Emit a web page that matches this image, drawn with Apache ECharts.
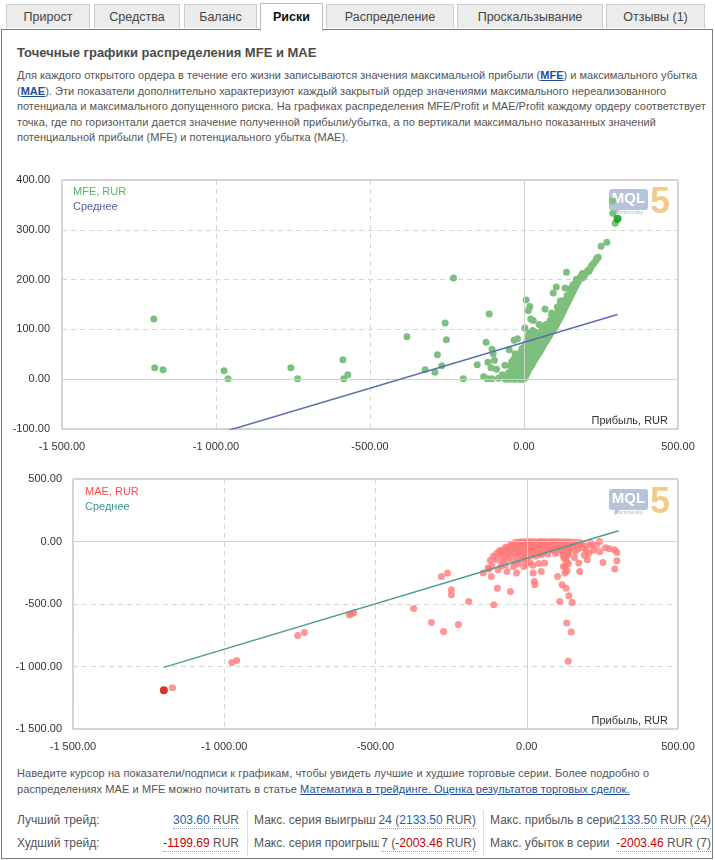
<!DOCTYPE html>
<html>
<head>
<meta charset="utf-8">
<script src="https://cdn.jsdelivr.net/npm/echarts@6/dist/echarts.min.js"></script>
<style>
  html, body { margin:0; padding:0; background:#fff; }
  body { width:715px; height:860px; position:relative; overflow:hidden; font-family:"Liberation Sans", Arial, sans-serif; color:#555; }
  .frame { position:absolute; left:1px; top:29px; width:710px; height:828px; border:1px solid #7a7a7a; }
  .tab { position:absolute; top:4px; height:24px; line-height:24px; background:#ececec; border:1px solid #cdcdcd; border-bottom:none; text-align:center; font-size:12.5px; color:#444; box-sizing:border-box; }
  .tab.active { background:#fff; top:3px; height:28px; line-height:27px; font-weight:bold; color:#111; border-color:#bdbdbd; z-index:2; }
  .h { position:absolute; left:17px; top:45px; font-size:13px; font-weight:bold; color:#4b4b4b; white-space:nowrap; }
  .p { position:absolute; left:17px; font-size:11px; letter-spacing:0.02px; line-height:15.5px; white-space:nowrap; color:#555; }
  .p2 { letter-spacing:0.08px; }
  .p a { color:#1f4f9a; text-decoration:underline; }
  #chart { position:absolute; left:0; top:160px; width:715px; height:600px; }
  .cell { position:absolute; font-size:12px; white-space:nowrap; overflow:hidden; color:#555; }
  .val { position:absolute; font-size:12px; white-space:nowrap; text-align:right; color:#555; border-bottom:1px dotted #8a9ab8; line-height:15px; background:#fff; }
  .b { color:#1f5fae; } .r { color:#c40000; }
  .sep { position:absolute; top:810px; width:1px; height:46px; background:#dcdcdc; }
</style>
</head>
<body>
<div class="frame"></div>
<div class="tab" style="left:6px;width:84px;">Прирост</div>
<div class="tab" style="left:94px;width:86px;">Средства</div>
<div class="tab" style="left:184px;width:73px;">Баланс</div>
<div class="tab active" style="left:260px;width:63px;">Риски</div>
<div class="tab" style="left:326px;width:128px;">Распределение</div>
<div class="tab" style="left:457px;width:146px;">Проскальзывание</div>
<div class="tab" style="left:606px;width:99px;">Отзывы (1)</div>

<div class="h">Точечные графики распределения MFE и MAE</div>
<div class="p" style="top:68px;">Для каждого открытого ордера в течение его жизни записываются значения максимальной прибыли (<b><a>MFE</a></b>) и максимального убытка<br>(<b><a>MAE</a></b>). Эти показатели дополнительно характеризуют каждый закрытый ордер значениями максимального нереализованного<br>потенциала и максимального допущенного риска. На графиках распределения MFE/Profit и MAE/Profit каждому ордеру соответствует<br>точка, где по горизонтали дается значение полученной прибыли/убытка, а по вертикали максимально показанных значений<br>потенциальной прибыли (MFE) и потенциального убытка (MAE).</div>

<div id="chart"></div>

<div class="p p2" style="top:766px;">Наведите курсор на показатели/подписи к графикам, чтобы увидеть лучшие и худшие торговые серии. Более подробно о<br>распределениях MAE и MFE можно почитать в статье <a>Математика в трейдинге. Оценка результатов торговых сделок.</a></div>

<div class="cell" style="left:17px;top:813px;width:120px;">Лучший трейд:</div>
<div class="cell" style="left:17px;top:836px;width:120px;">Худший трейд:</div>
<div class="val" style="right:476px;top:813px;"><span class="b">303.60</span> RUR</div>
<div class="val" style="right:476px;top:836px;"><span class="r">-1199.69</span> RUR</div>
<div class="sep" style="left:247px;"></div>
<div class="cell" style="left:254px;top:813px;width:125px;">Макс. серия выигрыш</div>
<div class="cell" style="left:254px;top:836px;width:125px;">Макс. серия проигрыш</div>
<div class="val" style="right:239px;top:813px;">24 (<span class="b">2133.50</span> RUR)</div>
<div class="val" style="right:239px;top:836px;">7 (<span class="r">-2003.46</span> RUR)</div>
<div class="sep" style="left:483px;"></div>
<div class="cell" style="left:490px;top:813px;width:125px;">Макс. прибыль в серии</div>
<div class="cell" style="left:490px;top:836px;width:125px;">Макс. убыток в серии</div>
<div class="val" style="right:4px;top:813px;"><span class="b">2133.50</span> RUR (24)</div>
<div class="val" style="right:4px;top:836px;"><span class="r">-2003.46</span> RUR (7)</div>

<script>
// ---- data ----
const xTicks = { min: -1500, max: 500, interval: 500 };
const mfeYTicks = { min: -100, max: 400, interval: 100 };
const maeYTicks = { min: -1500, max: 500, interval: 500 };

// [profit, MFE]
const mfePoints = [
  [-1202,121],[-1199,23],[-1172,19],[-974,17],[-961,1],[-757,23],[-735,1],[-588,39],[-585,1],[-572,9],
  [-380,85],[-321,19],[-289,14],[-267,27],[-281,49],[-256,113],[-252,79],[-229,203],[-197,1],[-152,29],
  [-131,5],[-123,74],[-113,131],[-119,1],[-117,34],[-107,23],[-105,1],[-104,60],[-100,51],[-96,38],
  [-89,20],[-83,2],[-70,9],[-62,28],[-56,1],[-48,59],[-42,8],[-40,35],[-32,78],[-29,51],[-21,81],
  [7,159],[19,146],[14,138],[22,121],[30,118],[3,103],[16,93],[28,98],[49,110],[57,107],[68,141],[77,111],
  [90,133],[95,173],[105,185],[118,157],[120,150],[133,183],[138,215],[153,183],[189,203],[211,217],
  [228,234],[236,243],[241,245],[250,267],[269,275],[288,333],[287,358],[296,313],
  [-60,0],[-52,2],[-46,0],[-40,3],[-36,1],[-31,0],[-27,4],[-23,1],[-19,2],[-14,0],[-10,3],[-6,1],[-2,0],
  [2,2],[5,6],[-44,6],[-37,8],[-30,11],[-24,7],[-17,9],[-12,13],[-7,7],[-3,12],[0,9],[4,11],[8,10],
  [-50,13],[-42,16],[-34,19],[-26,15],[-20,21],[-15,17],[-9,19],[-4,23],[1,17],[6,15],[10,13],[12,16],
  [-45,27],[-38,24],[-28,30],[-22,26],[-16,33],[-11,28],[-5,31],[0,26],[4,21],[9,20],[14,19],[17,22],
  [20,24],[-33,40],[-24,44],[-18,38],[-13,46],[-8,41],[-2,36],[3,33],[8,29],[12,27],[16,31],[22,28],
  [25,29],[28,32],
  [-10,55],[-4,50],[0,45],[5,42],[10,38],[15,36],[20,34],[26,37],[31,36],[34,39],[38,42],[-6,62],[2,58],
  [7,52],[12,48],[18,46],[24,43],[29,45],[36,47],[40,45],[43,48],[46,50],[4,68],[10,64],[15,58],[20,55],
  [26,53],[32,56],[38,54],[44,57],[49,53],[52,56],[55,59],[8,75],[14,72],[19,67],[25,63],[30,66],[36,63],
  [42,65],[48,63],[54,65],[58,63],[61,66],[12,84],[18,80],[24,77],[29,74],[35,72],[41,74],[47,72],[53,75],
  [60,73],[64,70],[67,72],[70,75],[20,88],[27,86],[33,83],[40,82],[46,85],[52,82],[58,84],[65,82],[72,78],
  [75,80],[78,83],[35,95],[42,92],[50,94],[56,91],[63,93],[70,88],[76,88],[81,86],[84,90],
  [87,93],[90,96],[94,99],[60,103],[68,100],[75,98],[82,97],[97,102],[100,105],[103,108],[72,110],[80,107],
  [88,104],[106,111],[109,115],[112,118],[85,118],[95,115],[101,120],[115,121],[118,125],[90,128],[100,130],
  [108,127],[121,128],[124,132],[112,137],[119,140],[127,136],[130,140],[108,145],[125,148],[133,144],
  [136,148],[139,152],[142,155],[130,158],[145,159],[148,162],[151,166],[154,170],[140,168],[157,174],
  [160,177],[150,178],[163,181],[166,185],[169,188],[172,192],[160,190],[175,195],[178,198],[170,200],
  [181,202],[184,205],[187,208],[190,212],[195,207],[198,211],[202,214],[206,217],[209,219],[214,222],
  [218,226],[222,230],[234,239]
];
const mfeBest = [[303.6, 322]];
const mfeMean = [[-1199.69, -147], [303.6, 130]];

// [profit, MAE]
const maePoints = [
  [-1171,-1170],[-975,-967],[-959,-951],[-757,-751],[-735,-727],[-587,-586],[-580,-580],[-572,-570],
  [-374,-535],[-315,-647],[-275,-719],[-226,-663],[-282,-279],[-262,-252],[-249,-386],[-249,-426],
  [-192,-479],[-144,-252],[-117,-279],[-109,-506],[-97,-373],[-54,-399],[-125,-220],[-128,-212],
  [-115,-194],[-95,-226],[-65,-239],[-34,-252],[-44,-199],[21,-252],[25,-319],[27,-346],[48,-239],
  [59,-172],[102,-279],[109,-479],[117,-346],[130,-373],[139,-434],[150,-487],[132,-652],[147,-724],
  [137,-957],[126,-252],[133,-233],[121,-199],
  [241,0],[274,-58],[291,-66],[298,-87],[252,-167],[291,-220],[298,-153],[241,-82],[213,-26],[197,-79],
  [200,-145],[175,-239],[172,-172],[158,-127],[188,-52],[221,-70],[171,-26],[230,-30],[205,-95],[190,-110],
  [160,-80],[170,-60],[180,-20],[195,-35],[212,-13],[260,-50],
  [-38,-8],[-25,-4],[-15,-2],[-5,-3],[5,0],[15,-2],[25,-1],[35,-3],[45,0],[55,-2],[65,-1],[75,-3],[85,0],
  [95,-2],[105,-1],[115,-3],[125,-2],[135,-4],[145,-3],[160,-6],[175,-8],
  [-55,-30],[-45,-22],[-32,-18],[-20,-15],[-8,-12],[2,-18],[12,-14],[22,-20],[32,-15],[42,-18],[52,-13],
  [62,-20],[72,-15],[82,-18],[92,-14],[102,-20],[112,-16],[122,-22],[132,-18],[142,-24],[155,-20],[168,-30],
  [-70,-45],[-60,-50],[-48,-42],[-36,-38],[-24,-45],[-12,-36],[-2,-42],[8,-38],[18,-44],[28,-36],[38,-40],
  [48,-46],[58,-38],[68,-42],[78,-48],[88,-40],[98,-44],[108,-38],[118,-46],[128,-42],[138,-50],[150,-45],
  [-90,-72],[-78,-68],[-66,-60],[-54,-70],[-42,-62],[-30,-75],[-18,-66],[-6,-60],[6,-72],[16,-64],[30,-70],
  [44,-62],[60,-68],[76,-64],[90,-72],[104,-66],[118,-70],[128,-60],[135,-75],[140,-66],
  [-100,-96],[-84,-79],[-85,-88],[-70,-98],[-58,-90],[-40,-95],[-25,-85],[-10,-100],[5,-92],[20,-88],
  [40,-98],[55,-90],[70,-100],[95,-95],[120,-90],[130,-100],[138,-92],
  [-110,-118],[-90,-110],[-75,-125],[-55,-115],[-35,-120],[-15,-112],[0,-128],[15,-110],[30,-118],
  [48,-105],[120,-115],[128,-125],[135,-110],
  [-120,-150],[-100,-145],[-80,-155],[-60,-140],[-40,-160],[-20,-150],[-5,-138],[10,-165],[125,-140],
  [132,-160],[138,-180],[127,-195],
  [-85,-195],[-70,-185],[-30,-180],[-10,-200],[0,-175],[20,-190],[40,-175]
];
const maeWorst = [[-1199.69, -1190]];
const maeMean = [[-1199.69, -1007], [303.6, 86]];

// ---- chart ----
function fmt(v) {
  const neg = v < 0;
  const parts = Math.abs(v).toFixed(2).split('.');
  const intPart = parts[0].replace(/\B(?=(\d{3})+(?!\d))/g, ' ');
  return (neg ? '-' : '') + intPart + '.' + parts[1];
}
const FONT = '"Liberation Sans", Arial, sans-serif';
const gridLine = { show: true, lineStyle: { color: '#d6d6d6', type: [5, 4], width: 1 } };
const zeroLine = { silent: true, symbol: 'none', animation: false, label: { show: false },
  lineStyle: { color: '#d0d0d0', type: 'solid', width: 1 }, emphasis: { disabled: true } };

function xAxis(gi) {
  return { type: 'value', gridIndex: gi, min: xTicks.min, max: xTicks.max, interval: xTicks.interval,
    axisLine: { show: false }, axisTick: { show: false }, splitLine: gridLine,
    axisLabel: { formatter: fmt, color: '#333', fontSize: 11, fontFamily: FONT, margin: 12 } };
}
function yAxis(gi, t, margin) {
  return { type: 'value', gridIndex: gi, min: t.min, max: t.max, interval: t.interval,
    axisLine: { show: false }, axisTick: { show: false }, splitLine: gridLine,
    axisLabel: { formatter: fmt, color: '#333', fontSize: 11, fontFamily: FONT, margin: margin } };
}
function logo(x, y) {
  return { type: 'group', x: x, y: y, silent: true, children: [
    { type: 'rect', shape: { x: 0, y: 0, width: 39, height: 21, r: 3 }, style: { fill: '#b7c3da' } },
    { type: 'polygon', shape: { points: [[6, 20], [6, 26], [12, 20]] }, style: { fill: '#b7c3da' } },
    { type: 'text', x: 19.5, y: 10, style: { text: 'MQL', fill: '#ffffff', font: 'bold 15px ' + FONT, align: 'center', verticalAlign: 'middle' } },
    { type: 'text', x: 19.5, y: 23, style: { text: 'community', fill: '#a6b4d0', font: '6px ' + FONT, align: 'center', verticalAlign: 'middle' } },
    { type: 'text', x: 51, y: 14, style: { text: '5', fill: '#f1cb88', font: 'bold 36px ' + FONT, align: 'center', verticalAlign: 'middle' } }
  ] };
}
function profitLabel(y) {
  return { type: 'text', x: 668, y: y, silent: true,
    style: { text: 'Прибыль, RUR', fill: '#333', font: '11px ' + FONT, align: 'right', verticalAlign: 'middle' } };
}

const chart = echarts.init(document.getElementById('chart'), null, { renderer: 'canvas' });
chart.setOption({
  animation: false,
  grid: [
    { left: 62, top: 20, width: 616, height: 249, show: true, borderColor: '#a9a9a9', borderWidth: 1, backgroundColor: 'transparent' },
    { left: 73, top: 319, width: 605, height: 250, show: true, borderColor: '#a9a9a9', borderWidth: 1, backgroundColor: 'transparent' }
  ],
  xAxis: [xAxis(0), xAxis(1)],
  yAxis: [yAxis(0, mfeYTicks, 12), yAxis(1, maeYTicks, 11)],
  legend: [
    { left: 63, top: 20, orient: 'vertical', itemWidth: 0, itemHeight: 14, itemGap: 2, selectedMode: false,
      textStyle: { fontSize: 11, fontFamily: FONT },
      data: [ { name: 'MFE, RUR', icon: 'none', textStyle: { color: '#5cb55c' } },
              { name: 'Среднее', icon: 'none', textStyle: { color: '#4f5fa8' } } ] },
    { left: 75, top: 320, orient: 'vertical', itemWidth: 0, itemHeight: 14, itemGap: 2, selectedMode: false,
      textStyle: { fontSize: 11, fontFamily: FONT },
      data: [ { name: 'MAE, RUR', icon: 'none', textStyle: { color: '#ff4a4a' } },
              { name: 'Среднее ', icon: 'none', textStyle: { color: '#3c9490' } } ] }
  ],
  graphic: [ logo(609, 29), logo(609, 329), profitLabel(261), profitLabel(561) ],
  series: [
    { type: 'scatter', name: 'zero1', xAxisIndex: 0, yAxisIndex: 0, data: [], z: 1,
      markLine: Object.assign({ data: [{ xAxis: 0 }, { yAxis: 0 }] }, zeroLine) },
    { type: 'scatter', name: 'MFE, RUR', xAxisIndex: 0, yAxisIndex: 0, data: mfePoints, z: 3,
      symbolSize: 7, itemStyle: { color: '#7dbf7d', opacity: 1 } },
    { type: 'scatter', name: 'MFE best', xAxisIndex: 0, yAxisIndex: 0, data: mfeBest, z: 4,
      symbolSize: 8, itemStyle: { color: '#009400' } },
    { type: 'line', name: 'Среднее', xAxisIndex: 0, yAxisIndex: 0, data: mfeMean, z: 5, clip: true,
      symbol: 'none', lineStyle: { color: '#5a6db0', width: 1.5 }, itemStyle: { color: '#5a6db0' } },

    { type: 'scatter', name: 'zero2', xAxisIndex: 1, yAxisIndex: 1, data: [], z: 1,
      markLine: Object.assign({ data: [{ xAxis: 0 }, { yAxis: 0 }] }, zeroLine) },
    { type: 'scatter', name: 'MAE, RUR', xAxisIndex: 1, yAxisIndex: 1, data: maePoints, z: 3,
      symbolSize: 7, itemStyle: { color: '#ff7b7b' } },
    { type: 'scatter', name: 'MAE worst', xAxisIndex: 1, yAxisIndex: 1, data: maeWorst, z: 4,
      symbolSize: 8, itemStyle: { color: '#cc0000' } },
    { type: 'line', name: 'Среднее ', xAxisIndex: 1, yAxisIndex: 1, data: maeMean, z: 5, clip: true,
      symbol: 'none', lineStyle: { color: '#4a9c98', width: 1.5 }, itemStyle: { color: '#4a9c98' } }
  ]
});
</script>
</body>
</html>
